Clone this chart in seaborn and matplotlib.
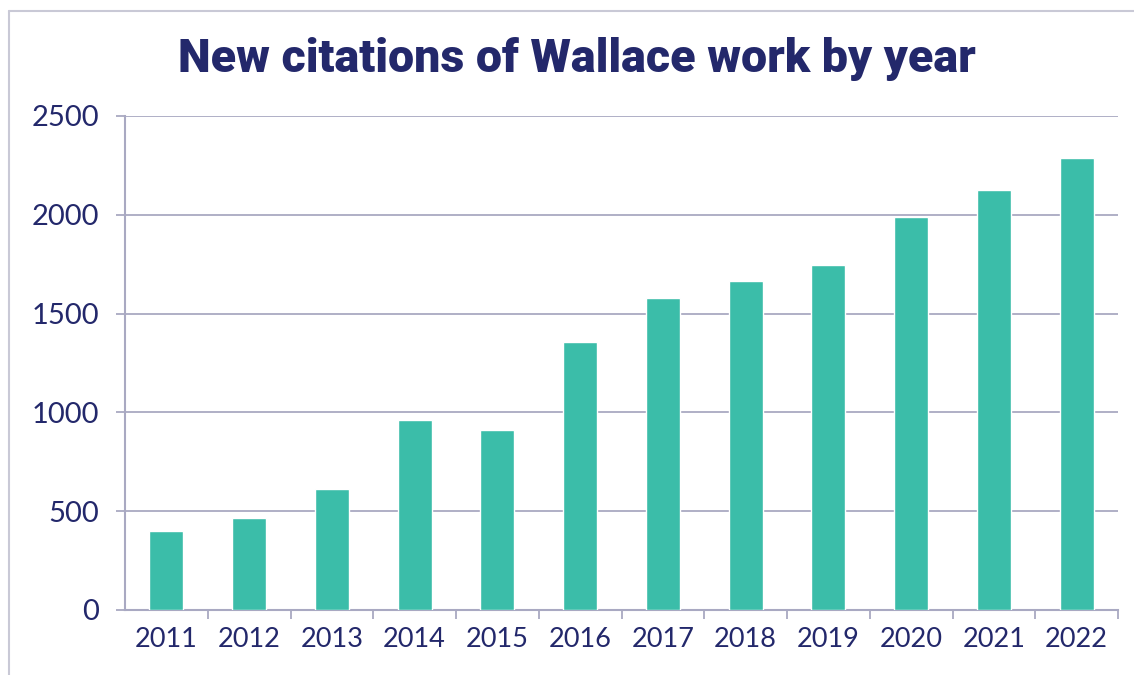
import matplotlib
matplotlib.use("Agg")
import matplotlib.pyplot as plt
from matplotlib.lines import Line2D
from matplotlib.ticker import FixedLocator
import seaborn as sns
import pandas as pd

years = ["2011", "2012", "2013", "2014", "2015", "2016", "2017", "2018", "2019", "2020", "2021", "2022"]
citations = [400, 465, 612, 961, 911, 1356, 1579, 1665, 1746, 1987, 2124, 2289]
y_ticks = [0, 500, 1000, 1500, 2000, 2500]

teal = "#3BBDA9"
navy = "#23286B"
grid = "#A9A9C2"

sns.set_theme(style="white")
plt.rcParams['font.family'] = ['Lato', 'DejaVu Sans']

df = pd.DataFrame({"year": years, "citations": citations})

fig = plt.figure(figsize=(11.34, 6.75), dpi=100)
ax = fig.add_axes([125/1134, 1-610/675, (1118-125)/1134, (610-116)/675])

sns.barplot(data=df, x="year", y="citations", color=teal, saturation=1, width=0.41, ax=ax, zorder=3)

ax.set_ylim(0, 2500)
ax.set_xlim(-0.5, len(years)-0.5)
ax.set_yticks(y_ticks)
ax.set_yticklabels([str(v) for v in y_ticks], fontsize=21, color=navy)
ax.set_xticklabels(years, fontsize=19.5, color=navy)
ax.set_xlabel("")
ax.set_ylabel("")

ax.yaxis.grid(True, color=grid, linewidth=1.3, zorder=0)
ax.set_axisbelow(True)
ax.tick_params(axis='y', length=6.5, width=1.3, color=grid, pad=12, left=True)
ax.tick_params(axis='x', which='major', length=0, pad=12)
ax.xaxis.set_minor_locator(FixedLocator([i + 0.5 for i in range(len(years))]))
ax.tick_params(axis='x', which='minor', length=6.5, width=1.3, color=grid, bottom=True)

for s in ["top", "right"]:
    ax.spines[s].set_visible(False)
for s in ["left", "bottom"]:
    ax.spines[s].set_color(grid)
    ax.spines[s].set_linewidth(1.5)

fig.text(577/1134, 1-59/675, "New citations of Wallace work by year", ha="center", va="center",
         fontsize=33.5, fontweight="heavy", color=navy, family=['Roboto', 'DejaVu Sans'])

frame = "#C9C9D6"
fig.add_artist(Line2D([9/1134, 9/1134], [0, 1-11/675], color=frame, linewidth=1.5, transform=fig.transFigure))
fig.add_artist(Line2D([9/1134, 1], [1-11/675, 1-11/675], color=frame, linewidth=1.5, transform=fig.transFigure))

fig.savefig("out.png", dpi=100)
